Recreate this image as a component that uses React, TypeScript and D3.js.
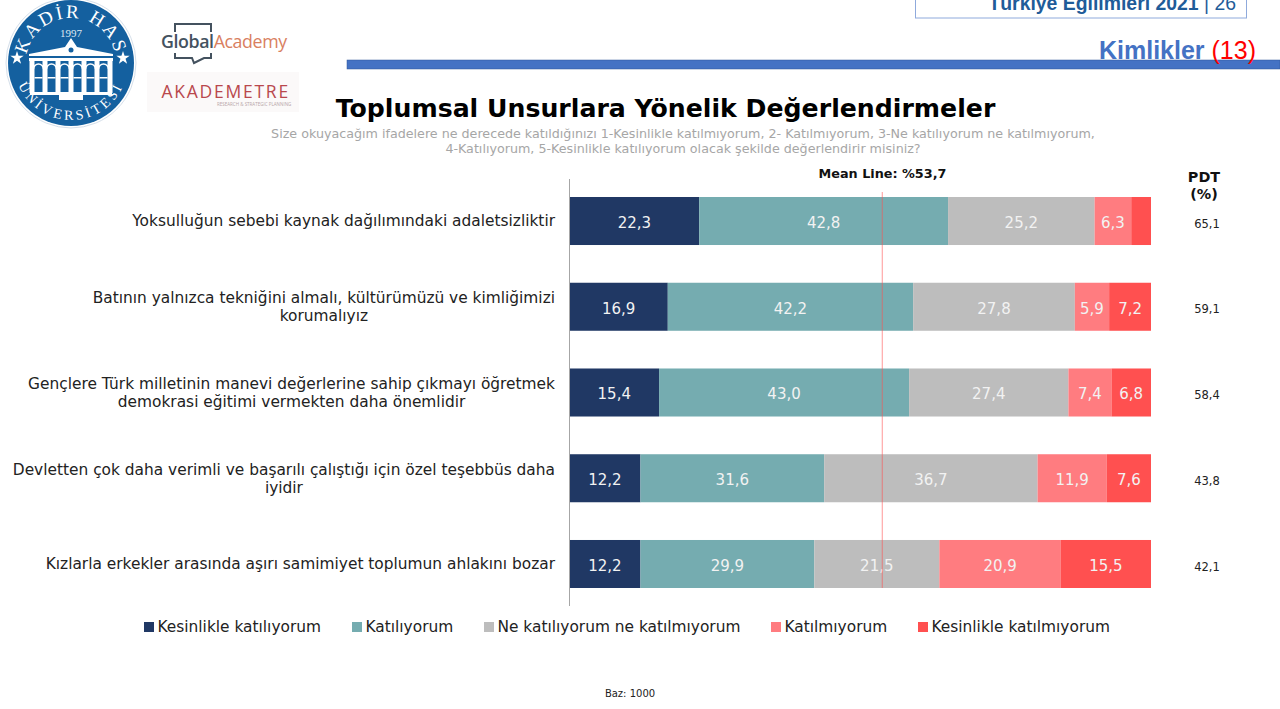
import { useEffect, useRef } from 'react'
import * as d3 from 'd3'

const WIDTH = 1280
const HEIGHT = 709

const statements = [
  ['Yoksulluğun sebebi kaynak dağılımındaki adaletsizliktir'],
  ['Batının yalnızca tekniğini almalı, kültürümüzü ve kimliğimizi', 'korumalıyız'],
  ['Gençlere Türk milletinin manevi değerlerine sahip çıkmayı öğretmek', 'demokrasi eğitimi vermekten daha önemlidir'],
  ['Devletten çok daha verimli ve başarılı çalıştığı için özel teşebbüs daha', 'iyidir'],
  ['Kızlarla erkekler arasında aşırı samimiyet toplumun ahlakını bozar'],
]
const answers = [
  'Kesinlikle katılıyorum',
  'Katılıyorum',
  'Ne katılıyorum ne katılmıyorum',
  'Katılmıyorum',
  'Kesinlikle katılmıyorum',
]
const answerColors = ['#203864', '#75acb0', '#bdbdbd', '#ff7c80', '#ff5050']

const stronglyAgree = [22.3, 16.9, 15.4, 12.2, 12.2]
const agree = [42.8, 42.2, 43.0, 31.6, 29.9]
const neutral = [25.2, 27.8, 27.4, 36.7, 21.5]
const disagree = [6.3, 5.9, 7.4, 11.9, 20.9]
const stronglyDisagree = [3.4, 7.2, 6.8, 7.6, 15.5]
const pdt = ['65,1', '59,1', '58,4', '43,8', '42,1']
const meanLine = 53.7
const hiddenLabelBelow = 4

const legendX = [144, 352, 484, 771, 918]
const FONT = '"DejaVu Sans", Verdana, sans-serif'

export default function App() {
  const svgRef = useRef<SVGSVGElement>(null)

  useEffect(() => {
    if (!svgRef.current) return
    const svg = d3.select(svgRef.current)
    svg.selectAll('*').remove()

    const series = [stronglyAgree, agree, neutral, disagree, stronglyDisagree]
    const rows = statements.map((_, i) => {
      let start = 0
      return series.map((s, k) => {
        const d = { row: i, k, value: s[i], start, end: start + s[i] }
        start += s[i]
        return d
      })
    })

    const x = d3.scaleLinear().domain([0, 100]).range([569.5, 1151])
    const y = d3.scaleBand<number>()
      .domain(d3.range(statements.length))
      .range([197, 588])
      .paddingInner(0.44)

    const fmt = (v: number) => v.toFixed(1).replace('.', ',')

    // Header
    svg.append('rect').attr('x', 915.5).attr('y', -10).attr('width', 331).attr('height', 28)
      .attr('fill', '#fff').attr('stroke', '#8faadc').attr('stroke-width', 1)
    const head = svg.append('text').attr('x', 1236).attr('y', 10).attr('text-anchor', 'end')
      .style('font-family', 'Liberation Sans').style('font-size', '19.4px').style('fill', '#1f5c99')
    head.append('tspan').style('font-weight', 'bold').text('Türkiye Eğilimleri 2021')
    head.append('tspan').text(' | 26')

    svg.append('rect').attr('x', 347).attr('y', 60).attr('width', 933).attr('height', 9)
      .attr('fill', '#4472c4').attr('stroke', '#2f5597').attr('stroke-width', 0.5)
    const section = svg.append('text').attr('x', 1256).attr('y', 59).attr('text-anchor', 'end')
      .style('font-family', 'Liberation Sans').style('font-size', '25px')
    section.append('tspan').style('font-weight', 'bold').style('fill', '#4472c4').text('Kimlikler ')
    section.append('tspan').style('fill', '#ff0000').text('(13)')

    // Logos
    const seal = svg.append('g').attr('transform', 'translate(71,63)')
    seal.append('circle').attr('r', 65).attr('fill', '#fff').attr('stroke', '#d5dfea')
    seal.append('circle').attr('r', 63).attr('fill', '#14609f')
    const defs = svg.append('defs')
    defs.append('path').attr('id', 'sealTop').attr('d', 'M -42.3 15.4 A 45 45 0 1 1 42.3 15.4')
    defs.append('path').attr('id', 'sealBottom').attr('d', 'M -55 -15 A 57 57 0 1 0 55 -15')
    seal.append('text').style('font-family', 'Liberation Serif').style('font-size', '19px').style('fill', '#fff')
      .append('textPath').attr('href', '#sealTop').attr('startOffset', '50%').attr('text-anchor', 'middle')
      .attr('letter-spacing', 2.4).text('KADİR HAS')
    seal.append('text').style('font-family', 'Liberation Serif').style('font-size', '14px').style('fill', '#fff')
      .append('textPath').attr('href', '#sealBottom').attr('startOffset', '50%').attr('text-anchor', 'middle')
      .attr('letter-spacing', 3.2).text('ÜNİVERSİTESİ')
    seal.append('text').attr('y', -26).attr('text-anchor', 'middle')
      .style('font-family', 'Liberation Serif').style('font-size', '11px').style('fill', '#dfe9f3').text('1997')
    // building: roof, cornice, columns and floor bands
    seal.append('path').attr('d', 'M -42 -9 L -6 -16 L 0 -25 L 6 -16 L 42 -9 L 42 -7 L -42 -7 Z').attr('fill', '#fff')
    seal.append('circle').attr('cy', -13).attr('r', 2.5).attr('fill', '#14609f')
    seal.append('rect').attr('x', -42).attr('y', -5).attr('width', 84).attr('height', 3).attr('fill', '#fff')
    d3.range(-39, 40, 13).forEach(cx => {
      seal.append('rect').attr('x', cx - 2.5).attr('y', -2).attr('width', 5).attr('height', 32).attr('fill', '#fff')
    })
    d3.range(-32.5, 33, 13).forEach(cx => {
      seal.append('path').attr('d', `M ${cx - 5} 6 A 5 5 0 0 1 ${cx + 5} 6`).attr('fill', 'none').attr('stroke', '#fff').attr('stroke-width', 1.5)
      seal.append('rect').attr('x', cx - 4).attr('y', 14).attr('width', 8).attr('height', 1.5).attr('fill', '#fff')
    })
    seal.append('rect').attr('x', -41).attr('y', 29).attr('width', 82).attr('height', 3).attr('fill', '#fff')
    seal.append('rect').attr('x', -12).attr('y', 32).attr('width', 24).attr('height', 5).attr('fill', '#fff')
    ;[-54, 52].forEach(cx => {
      seal.append('path').attr('d', d3.symbol(d3.symbolStar, 55)()!).attr('transform', `translate(${cx},-5)`).attr('fill', '#fff')
    })

    const ga = svg.append('text').attr('x', 161).attr('y', 48)
      .style('font-family', 'Open Sans').style('font-size', '17.8px').attr('letter-spacing', -0.4)
    ga.append('tspan').style('font-weight', 600).style('fill', '#44525f').text('Global')
    ga.append('tspan').style('fill', '#d9805f').text('Academy')
    svg.append('path').attr('d', 'M 175 32 V 24 H 211 V 32 M 175 53 V 58 H 192 L 194 63 L 204 58 H 211 V 53')
      .attr('fill', 'none').attr('stroke', '#44525f').attr('stroke-width', 2)
    svg.append('rect').attr('x', 147).attr('y', 72).attr('width', 152).attr('height', 40).attr('fill', '#fbf9f9')
    svg.append('text').attr('x', 161.5).attr('y', 98)
      .style('font-family', 'Open Sans').style('font-size', '17.5px').attr('letter-spacing', 1.75)
      .style('fill', '#b9484d').text('AKADEMETRE')
    svg.append('text').attr('x', 217).attr('y', 105.5)
      .style('font-family', 'Open Sans').style('font-size', '4.5px').style('fill', '#b7a5a8')
      .text('RESEARCH & STRATEGIC PLANNING')

    // Titles
    svg.append('text').attr('x', 665.5).attr('y', 116.5).attr('text-anchor', 'middle')
      .style('font-family', FONT).style('font-size', '25.2px').style('font-weight', 'bold').style('fill', '#000')
      .text('Toplumsal Unsurlara Yönelik Değerlendirmeler')
    ;[
      'Size okuyacağım ifadelere ne derecede katıldığınızı 1-Kesinlikle katılmıyorum, 2- Katılmıyorum, 3-Ne katılıyorum ne katılmıyorum,',
      '4-Katılıyorum, 5-Kesinlikle katılıyorum olacak şekilde değerlendirir misiniz?',
    ].forEach((line, i) => {
      svg.append('text').attr('x', 683).attr('y', 138 + i * 15).attr('text-anchor', 'middle')
        .style('font-family', FONT).style('font-size', '12.7px').style('fill', '#a6a6a6').text(line)
    })

    // Bars
    const rowG = svg.selectAll('g.row').data(rows).join('g').attr('class', 'row')
    rowG.selectAll('rect').data(d => d).join('rect')
      .attr('x', d => x(d.start))
      .attr('y', d => y(d.row)!)
      .attr('width', d => x(d.end) - x(d.start))
      .attr('height', y.bandwidth())
      .attr('fill', d => answerColors[d.k])
    rowG.selectAll('text').data(d => d.filter(p => p.value >= hiddenLabelBelow)).join('text')
      .attr('x', d => (x(d.start) + x(d.end)) / 2)
      .attr('y', d => y(d.row)! + y.bandwidth() / 2 + 1.5)
      .attr('dy', '0.35em')
      .attr('text-anchor', 'middle')
      .style('font-family', FONT).style('font-size', '15px').style('fill', '#f2f2f2')
      .text(d => fmt(d.value))

    // Axis and mean line
    svg.append('line').attr('x1', 569.5).attr('x2', 569.5).attr('y1', 179).attr('y2', 606)
      .attr('stroke', '#a6a6a6').attr('stroke-width', 1)
    svg.append('line').attr('x1', x(meanLine) + 0.5).attr('x2', x(meanLine) + 0.5).attr('y1', 192).attr('y2', 588)
      .attr('stroke', '#ff5050').attr('stroke-width', 0.6)
    svg.append('text').attr('x', 882.5).attr('y', 178).attr('text-anchor', 'middle')
      .style('font-family', FONT).style('font-size', '12.8px').style('font-weight', 'bold').style('fill', '#111')
      .text('Mean Line: %53,7')

    // Statement labels: block sits against the axis, lines centred inside it
    statements.forEach((lines, i) => {
      const cy = y(i)! + y.bandwidth() / 2
      const nodes = lines.map((line, j) =>
        svg.append('text')
          .attr('y', cy + (j - (lines.length - 1) / 2) * 18)
          .attr('dy', '0.35em')
          .style('font-family', FONT).style('font-size', '15.4px').style('fill', '#222')
          .text(line),
      )
      const widest = d3.max(nodes, n => (n.node() as SVGTextElement).getComputedTextLength())!
      nodes.forEach(n => n.attr('x', 555 - widest / 2).attr('text-anchor', 'middle'))
    })

    // PDT column
    const pdtHead = svg.append('text').attr('x', 1204).attr('text-anchor', 'middle')
      .style('font-family', FONT).style('font-size', '14.4px').style('font-weight', 'bold').style('fill', '#111')
    pdtHead.append('tspan').attr('x', 1204).attr('y', 182).text('PDT')
    pdtHead.append('tspan').attr('x', 1204).attr('y', 199).text('(%)')
    pdt.forEach((v, i) => {
      svg.append('text').attr('x', 1207).attr('y', y(i)! + y.bandwidth() / 2 + 2.5).attr('dy', '0.35em')
        .attr('text-anchor', 'middle')
        .style('font-family', FONT).style('font-size', '11.5px').style('fill', '#222').text(v)
    })

    // Legend
    answers.forEach((a, i) => {
      svg.append('rect').attr('x', legendX[i]).attr('y', 622).attr('width', 10).attr('height', 10)
        .attr('fill', answerColors[i])
      svg.append('text').attr('x', legendX[i] + 13.5).attr('y', 632)
        .style('font-family', FONT).style('font-size', '15.4px').style('fill', '#222').text(a)
    })

    svg.append('text').attr('x', 630).attr('y', 697).attr('text-anchor', 'middle')
      .style('font-family', FONT).style('font-size', '10px').style('fill', '#222').text('Baz: 1000')
  }, [])

  return (
    <svg
      ref={svgRef}
      width={WIDTH}
      height={HEIGHT}
      style={{ position: 'absolute', left: 0, top: 0, background: '#fff' }}
    />
  )
}
